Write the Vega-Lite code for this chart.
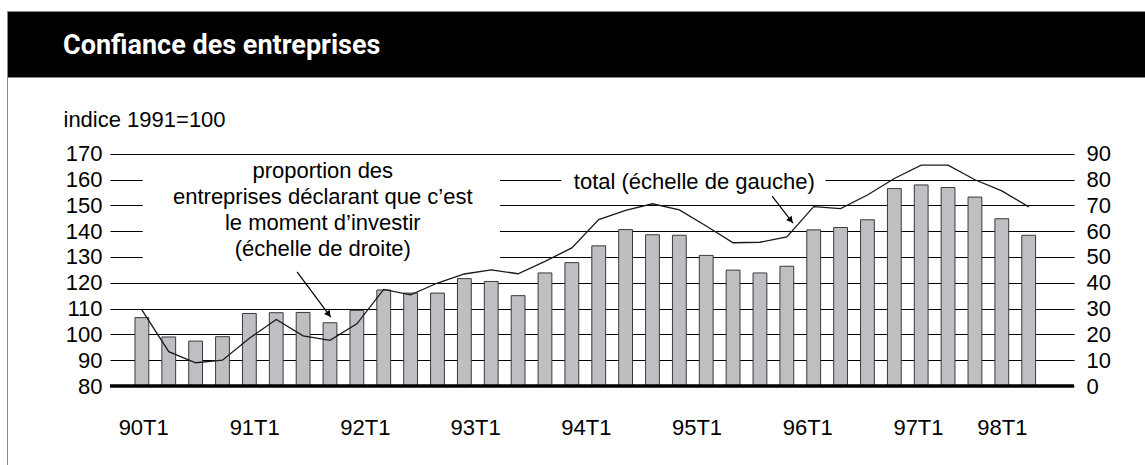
{
  "$schema": "https://vega.github.io/schema/vega-lite/v6.json",
  "padding": {"left": 6, "top": 10, "right": 0, "bottom": 0},
  "background": "white",
  "spacing": 0,
  "bounds": "flush",
  "config": {
    "view": {"stroke": null},
    "font": "Liberation Sans",
    "axis": {"labelFont": "Liberation Sans", "titleFont": "Liberation Sans", "labelColor": "#000", "titleColor": "#000", "labelFlush": false, "labelOverlap": false}
  },
  "vconcat": [
    {
      "width": 1138,
      "height": 66,
      "view": {"fill": "#000", "stroke": "#888", "strokeWidth": 1},
      "title": {
        "text": "Confiance des entreprises",
        "anchor": "start",
        "frame": "group",
        "orient": "top",
        "offset": -70,
        "dx": 56,
        "baseline": "alphabetic",
        "color": "#fff",
        "font": "Roboto",
        "fontSize": 27,
        "fontWeight": "bold"
      },
      "data": {"values": []},
      "mark": "point"
    },
    {
      "spacing": 0,
      "bounds": "flush",
      "hconcat": [
        {
          "width": 103,
          "height": 388,
          "data": {"values": [{"v": 0}]},
          "mark": {"type": "point", "opacity": 0},
          "encoding": {
            "y": {"field": "v", "type": "quantitative", "scale": {"domain": [0, 1]},
              "axis": {"orient": "left", "domain": true, "domainColor": "#888", "domainWidth": 1, "ticks": false, "labels": false, "grid": false, "title": null}}
          }
        },
        {
          "width": 964,
          "height": 309,
          "data": {"values": [
            {"q": "90T1", "t": 1990.00, "investir": 26.5, "total": 109.5},
            {"q": "90T2", "t": 1990.25, "investir": 19.0, "total": 93.3},
            {"q": "90T3", "t": 1990.50, "investir": 17.4, "total": 89.0},
            {"q": "90T4", "t": 1990.75, "investir": 19.1, "total": 90.0},
            {"q": "91T1", "t": 1991.00, "investir": 28.1, "total": 98.5},
            {"q": "91T2", "t": 1991.25, "investir": 28.4, "total": 105.8},
            {"q": "91T3", "t": 1991.50, "investir": 28.5, "total": 99.4},
            {"q": "91T4", "t": 1991.75, "investir": 24.5, "total": 97.7},
            {"q": "92T1", "t": 1992.00, "investir": 29.3, "total": 104.1},
            {"q": "92T2", "t": 1992.25, "investir": 37.2, "total": 117.4},
            {"q": "92T3", "t": 1992.50, "investir": 36.0, "total": 115.3},
            {"q": "92T4", "t": 1992.75, "investir": 36.0, "total": 119.9},
            {"q": "93T1", "t": 1993.00, "investir": 41.6, "total": 123.4},
            {"q": "93T2", "t": 1993.25, "investir": 40.5, "total": 125.0},
            {"q": "93T3", "t": 1993.50, "investir": 35.0, "total": 123.5},
            {"q": "93T4", "t": 1993.75, "investir": 43.8, "total": 128.3},
            {"q": "94T1", "t": 1994.00, "investir": 47.8, "total": 133.5},
            {"q": "94T2", "t": 1994.25, "investir": 54.3, "total": 144.5},
            {"q": "94T3", "t": 1994.50, "investir": 60.6, "total": 148.0},
            {"q": "94T4", "t": 1994.75, "investir": 58.6, "total": 150.6},
            {"q": "95T1", "t": 1995.00, "investir": 58.4, "total": 148.2},
            {"q": "95T2", "t": 1995.25, "investir": 50.6, "total": 142.0},
            {"q": "95T3", "t": 1995.50, "investir": 44.9, "total": 135.5},
            {"q": "95T4", "t": 1995.75, "investir": 43.8, "total": 135.7},
            {"q": "96T1", "t": 1996.00, "investir": 46.4, "total": 137.8},
            {"q": "96T2", "t": 1996.25, "investir": 60.5, "total": 149.5},
            {"q": "96T3", "t": 1996.50, "investir": 61.4, "total": 148.7},
            {"q": "96T4", "t": 1996.75, "investir": 64.4, "total": 154.0},
            {"q": "97T1", "t": 1997.00, "investir": 76.5, "total": 160.4},
            {"q": "97T2", "t": 1997.25, "investir": 77.9, "total": 165.6},
            {"q": "97T3", "t": 1997.50, "investir": 76.9, "total": 165.6},
            {"q": "97T4", "t": 1997.75, "investir": 73.2, "total": 159.9},
            {"q": "98T1", "t": 1998.00, "investir": 64.8, "total": 155.6},
            {"q": "98T2", "t": 1998.25, "investir": 58.4, "total": 149.4}
          ]},
          "resolve": {"scale": {"y": "independent"}},
          "layer": [
            {
              "mark": {"type": "bar", "width": 13.8, "fill": "#bebfc3", "stroke": "#3a3a3a", "strokeWidth": 1},
              "encoding": {
                "x": {"field": "t", "type": "quantitative",
                  "scale": {"domain": [1989.75, 1998.625], "nice": false, "zero": false},
                  "axis": {"orient": "bottom", "values": [1990.0125, 1991.045, 1992.075, 1993.1, 1994.13, 1995.16, 1996.19, 1997.22, 1998.0],
                    "labelExpr": "(floor(datum.value) - 1900) + 'T1'", "tickCount": 40,
                    "ticks": false, "domain": false, "grid": false, "labelFontSize": 22, "labelPadding": 48, "labelBaseline": "alphabetic", "title": null}},
                "y": {"field": "investir", "type": "quantitative",
                  "scale": {"domain": [0, 119.72], "nice": false},
                  "axis": {"orient": "right", "values": [0, 10, 20, 30, 40, 50, 60, 70, 80, 90], "tickCount": 20, "ticks": false, "domain": false, "grid": false, "labelFontSize": 22, "labelPadding": 12, "title": null}}
              }
            },
            {
              "layer": [
                {
                  "mark": {"type": "line", "color": "#1a1a1a", "strokeWidth": 1.3},
                  "encoding": {
                    "x": {"field": "t", "type": "quantitative", "scale": {"domain": [1989.75, 1998.625], "nice": false, "zero": false}},
                    "y": {"field": "total", "type": "quantitative",
                      "scale": {"domain": [80, 199.72], "nice": false, "zero": false},
                      "axis": {"orient": "left", "values": [80, 90, 100, 110, 120, 130, 140, 150, 160, 170], "tickCount": 20, "ticks": false, "domain": false,
                        "grid": true, "gridColor": "#000", "gridWidth": 1, "gridOpacity": 1,
                        "labelFontSize": 22, "labelPadding": 8,
                        "title": "indice 1991=100", "titleAngle": 0, "titleAlign": "left", "titleBaseline": "alphabetic",
                        "titleX": -47, "titleY": 49, "titleFontSize": 22, "titleFontWeight": "normal"}}
                  }
                },
                {
                  "data": {"values": [{}]},
                  "mark": {"type": "rect", "fill": "#fff", "stroke": null},
                  "encoding": {
                    "x": {"datum": 1990.008, "type": "quantitative", "scale": {"domain": [1989.75, 1998.625], "nice": false, "zero": false}},
                    "x2": {"datum": 1993.331},
                    "y": {"datum": 126.5, "type": "quantitative", "scale": {"domain": [80, 199.72], "nice": false, "zero": false}},
                    "y2": {"datum": 164}
                  }
                },
                {
                  "data": {"values": [{}]},
                  "mark": {"type": "rect", "fill": "#fff", "stroke": null},
                  "encoding": {
                    "x": {"datum": 1993.902, "type": "quantitative", "scale": {"domain": [1989.75, 1998.625], "nice": false, "zero": false}},
                    "x2": {"datum": 1996.36},
                    "y": {"datum": 157.5, "type": "quantitative", "scale": {"domain": [80, 199.72], "nice": false, "zero": false}},
                    "y2": {"datum": 162.5}
                  }
                },
                {
                  "data": {"values": [{}]},
                  "mark": {"type": "text", "align": "center", "baseline": "alphabetic", "fontSize": 22, "lineHeight": 25.81, "color": "#000", "font": "Liberation Sans"},
                  "encoding": {
                    "x": {"datum": 1991.683, "type": "quantitative", "scale": {"domain": [1989.75, 1998.625], "nice": false, "zero": false}},
                    "y": {"datum": 160.4, "type": "quantitative", "scale": {"domain": [80, 199.72], "nice": false, "zero": false}},
                    "text": {"value": ["proportion des", "entreprises déclarant que c’est", "le moment d’investir", "(échelle de droite)"]}
                  }
                },
                {
                  "data": {"values": [{}]},
                  "mark": {"type": "text", "align": "center", "baseline": "alphabetic", "fontSize": 22, "color": "#000", "font": "Liberation Sans"},
                  "encoding": {
                    "x": {"datum": 1995.139, "type": "quantitative", "scale": {"domain": [1989.75, 1998.625], "nice": false, "zero": false}},
                    "y": {"datum": 156.3, "type": "quantitative", "scale": {"domain": [80, 199.72], "nice": false, "zero": false}},
                    "text": {"value": "total (échelle de gauche)"}
                  }
                },
                {
                  "data": {"values": [{}]},
                  "mark": {"type": "rule", "color": "#000", "strokeWidth": 1.2},
                  "encoding": {
                    "x": {"datum": 1991.444, "type": "quantitative", "scale": {"domain": [1989.75, 1998.625], "nice": false, "zero": false}},
                    "x2": {"datum": 1991.757},
                    "y": {"datum": 124.2, "type": "quantitative", "scale": {"domain": [80, 199.72], "nice": false, "zero": false}},
                    "y2": {"datum": 106.7}
                  }
                },
                {
                  "data": {"values": [{}]},
                  "mark": {"type": "rule", "color": "#000", "strokeWidth": 1.2},
                  "encoding": {
                    "x": {"datum": 1995.863, "type": "quantitative", "scale": {"domain": [1989.75, 1998.625], "nice": false, "zero": false}},
                    "x2": {"datum": 1996.057},
                    "y": {"datum": 153.6, "type": "quantitative", "scale": {"domain": [80, 199.72], "nice": false, "zero": false}},
                    "y2": {"datum": 143.15}
                  }
                },
                {
                  "data": {"values": [{}]},
                  "mark": {"type": "point", "shape": "triangle-up", "filled": true, "size": 50, "angle": 143, "color": "#000", "opacity": 1},
                  "encoding": {
                    "x": {"datum": 1991.738, "type": "quantitative", "scale": {"domain": [1989.75, 1998.625], "nice": false, "zero": false}},
                    "y": {"datum": 107.8, "type": "quantitative", "scale": {"domain": [80, 199.72], "nice": false, "zero": false}}
                  }
                },
                {
                  "data": {"values": [{}]},
                  "mark": {"type": "point", "shape": "triangle-up", "filled": true, "size": 50, "angle": 142, "color": "#000", "opacity": 1},
                  "encoding": {
                    "x": {"datum": 1996.037, "type": "quantitative", "scale": {"domain": [1989.75, 1998.625], "nice": false, "zero": false}},
                    "y": {"datum": 144.2, "type": "quantitative", "scale": {"domain": [80, 199.72], "nice": false, "zero": false}}
                  }
                },
                {
                  "data": {"values": [{}]},
                  "mark": {"type": "rule", "color": "#000", "strokeWidth": 3.5},
                  "encoding": {
                    "y": {"datum": 80, "type": "quantitative", "scale": {"domain": [80, 199.72], "nice": false, "zero": false}}
                  }
                }
              ]
            }
          ]
        }
      ]
    }
  ]
}
